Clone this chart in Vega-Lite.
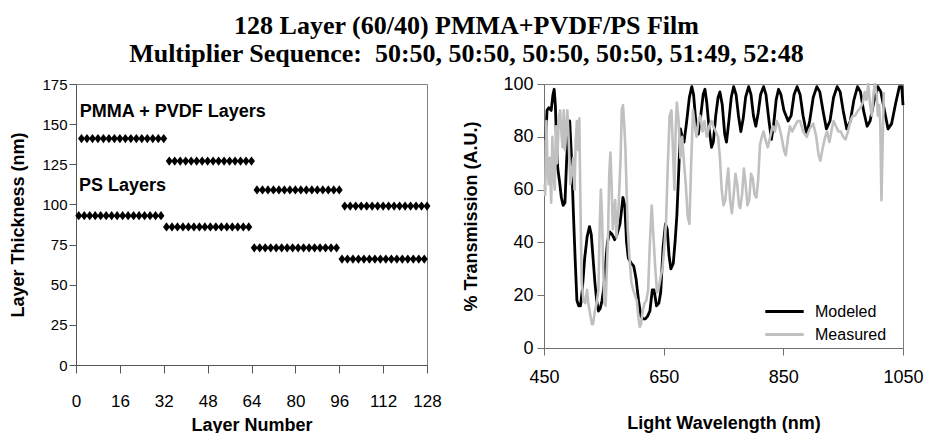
{
  "$schema": "https://vega.github.io/schema/vega-lite/v6.json",
  "background": "white",
  "padding": {"left": 9, "top": 12, "right": 0, "bottom": 0},
  "title": {
    "text": ["128 Layer (60/40) PMMA+PVDF/PS Film", "Multiplier Sequence:\u00a0\u00a050:50, 50:50, 50:50, 50:50, 51:49, 52:48"],
    "font": "Liberation Serif", "fontSize": 26, "fontWeight": "bold", "lineHeight": 28,
    "anchor": "middle", "offset": 8, "color": "black"
  },
  "spacing": 20,
  "resolve": {"scale": {"x": "independent", "y": "independent", "color": "independent"}, "legend": {"color": "independent"}},
  "config": {
    "view": {"stroke": "#808080", "strokeWidth": 1},
    "axis": {
      "grid": false, "domainColor": "#707070", "tickColor": "#707070",
      "labelColor": "black", "titleColor": "black",
      "titleFont": "Liberation Sans", "titleFontWeight": "bold", "titleFontSize": 18,
      "labelFont": "Liberation Sans"
    }
  },
  "datasets": {
    "layers": [
      {"layer": 1, "thickness": 93, "type": "PS"}, {"layer": 3, "thickness": 93, "type": "PS"}, {"layer": 5, "thickness": 93, "type": "PS"}, {"layer": 7, "thickness": 93, "type": "PS"},
      {"layer": 9, "thickness": 93, "type": "PS"}, {"layer": 11, "thickness": 93, "type": "PS"}, {"layer": 13, "thickness": 93, "type": "PS"}, {"layer": 15, "thickness": 93, "type": "PS"},
      {"layer": 17, "thickness": 93, "type": "PS"}, {"layer": 19, "thickness": 93, "type": "PS"}, {"layer": 21, "thickness": 93, "type": "PS"}, {"layer": 23, "thickness": 93, "type": "PS"},
      {"layer": 25, "thickness": 93, "type": "PS"}, {"layer": 27, "thickness": 93, "type": "PS"}, {"layer": 29, "thickness": 93, "type": "PS"}, {"layer": 31, "thickness": 93, "type": "PS"},
      {"layer": 33, "thickness": 86, "type": "PS"}, {"layer": 35, "thickness": 86, "type": "PS"}, {"layer": 37, "thickness": 86, "type": "PS"}, {"layer": 39, "thickness": 86, "type": "PS"},
      {"layer": 41, "thickness": 86, "type": "PS"}, {"layer": 43, "thickness": 86, "type": "PS"}, {"layer": 45, "thickness": 86, "type": "PS"}, {"layer": 47, "thickness": 86, "type": "PS"},
      {"layer": 49, "thickness": 86, "type": "PS"}, {"layer": 51, "thickness": 86, "type": "PS"}, {"layer": 53, "thickness": 86, "type": "PS"}, {"layer": 55, "thickness": 86, "type": "PS"},
      {"layer": 57, "thickness": 86, "type": "PS"}, {"layer": 59, "thickness": 86, "type": "PS"}, {"layer": 61, "thickness": 86, "type": "PS"}, {"layer": 63, "thickness": 86, "type": "PS"},
      {"layer": 65, "thickness": 73, "type": "PS"}, {"layer": 67, "thickness": 73, "type": "PS"}, {"layer": 69, "thickness": 73, "type": "PS"}, {"layer": 71, "thickness": 73, "type": "PS"},
      {"layer": 73, "thickness": 73, "type": "PS"}, {"layer": 75, "thickness": 73, "type": "PS"}, {"layer": 77, "thickness": 73, "type": "PS"}, {"layer": 79, "thickness": 73, "type": "PS"},
      {"layer": 81, "thickness": 73, "type": "PS"}, {"layer": 83, "thickness": 73, "type": "PS"}, {"layer": 85, "thickness": 73, "type": "PS"}, {"layer": 87, "thickness": 73, "type": "PS"},
      {"layer": 89, "thickness": 73, "type": "PS"}, {"layer": 91, "thickness": 73, "type": "PS"}, {"layer": 93, "thickness": 73, "type": "PS"}, {"layer": 95, "thickness": 73, "type": "PS"},
      {"layer": 97, "thickness": 66, "type": "PS"}, {"layer": 99, "thickness": 66, "type": "PS"}, {"layer": 101, "thickness": 66, "type": "PS"}, {"layer": 103, "thickness": 66, "type": "PS"},
      {"layer": 105, "thickness": 66, "type": "PS"}, {"layer": 107, "thickness": 66, "type": "PS"}, {"layer": 109, "thickness": 66, "type": "PS"}, {"layer": 111, "thickness": 66, "type": "PS"},
      {"layer": 113, "thickness": 66, "type": "PS"}, {"layer": 115, "thickness": 66, "type": "PS"}, {"layer": 117, "thickness": 66, "type": "PS"}, {"layer": 119, "thickness": 66, "type": "PS"},
      {"layer": 121, "thickness": 66, "type": "PS"}, {"layer": 123, "thickness": 66, "type": "PS"}, {"layer": 125, "thickness": 66, "type": "PS"}, {"layer": 127, "thickness": 66, "type": "PS"},
      {"layer": 2, "thickness": 141, "type": "PMMA"}, {"layer": 4, "thickness": 141, "type": "PMMA"}, {"layer": 6, "thickness": 141, "type": "PMMA"}, {"layer": 8, "thickness": 141, "type": "PMMA"},
      {"layer": 10, "thickness": 141, "type": "PMMA"}, {"layer": 12, "thickness": 141, "type": "PMMA"}, {"layer": 14, "thickness": 141, "type": "PMMA"}, {"layer": 16, "thickness": 141, "type": "PMMA"},
      {"layer": 18, "thickness": 141, "type": "PMMA"}, {"layer": 20, "thickness": 141, "type": "PMMA"}, {"layer": 22, "thickness": 141, "type": "PMMA"}, {"layer": 24, "thickness": 141, "type": "PMMA"},
      {"layer": 26, "thickness": 141, "type": "PMMA"}, {"layer": 28, "thickness": 141, "type": "PMMA"}, {"layer": 30, "thickness": 141, "type": "PMMA"}, {"layer": 32, "thickness": 141, "type": "PMMA"},
      {"layer": 34, "thickness": 127, "type": "PMMA"}, {"layer": 36, "thickness": 127, "type": "PMMA"}, {"layer": 38, "thickness": 127, "type": "PMMA"}, {"layer": 40, "thickness": 127, "type": "PMMA"},
      {"layer": 42, "thickness": 127, "type": "PMMA"}, {"layer": 44, "thickness": 127, "type": "PMMA"}, {"layer": 46, "thickness": 127, "type": "PMMA"}, {"layer": 48, "thickness": 127, "type": "PMMA"},
      {"layer": 50, "thickness": 127, "type": "PMMA"}, {"layer": 52, "thickness": 127, "type": "PMMA"}, {"layer": 54, "thickness": 127, "type": "PMMA"}, {"layer": 56, "thickness": 127, "type": "PMMA"},
      {"layer": 58, "thickness": 127, "type": "PMMA"}, {"layer": 60, "thickness": 127, "type": "PMMA"}, {"layer": 62, "thickness": 127, "type": "PMMA"}, {"layer": 64, "thickness": 127, "type": "PMMA"},
      {"layer": 66, "thickness": 109, "type": "PMMA"}, {"layer": 68, "thickness": 109, "type": "PMMA"}, {"layer": 70, "thickness": 109, "type": "PMMA"}, {"layer": 72, "thickness": 109, "type": "PMMA"},
      {"layer": 74, "thickness": 109, "type": "PMMA"}, {"layer": 76, "thickness": 109, "type": "PMMA"}, {"layer": 78, "thickness": 109, "type": "PMMA"}, {"layer": 80, "thickness": 109, "type": "PMMA"},
      {"layer": 82, "thickness": 109, "type": "PMMA"}, {"layer": 84, "thickness": 109, "type": "PMMA"}, {"layer": 86, "thickness": 109, "type": "PMMA"}, {"layer": 88, "thickness": 109, "type": "PMMA"},
      {"layer": 90, "thickness": 109, "type": "PMMA"}, {"layer": 92, "thickness": 109, "type": "PMMA"}, {"layer": 94, "thickness": 109, "type": "PMMA"}, {"layer": 96, "thickness": 109, "type": "PMMA"},
      {"layer": 98, "thickness": 99, "type": "PMMA"}, {"layer": 100, "thickness": 99, "type": "PMMA"}, {"layer": 102, "thickness": 99, "type": "PMMA"}, {"layer": 104, "thickness": 99, "type": "PMMA"},
      {"layer": 106, "thickness": 99, "type": "PMMA"}, {"layer": 108, "thickness": 99, "type": "PMMA"}, {"layer": 110, "thickness": 99, "type": "PMMA"}, {"layer": 112, "thickness": 99, "type": "PMMA"},
      {"layer": 114, "thickness": 99, "type": "PMMA"}, {"layer": 116, "thickness": 99, "type": "PMMA"}, {"layer": 118, "thickness": 99, "type": "PMMA"}, {"layer": 120, "thickness": 99, "type": "PMMA"},
      {"layer": 122, "thickness": 99, "type": "PMMA"}, {"layer": 124, "thickness": 99, "type": "PMMA"}, {"layer": 126, "thickness": 99, "type": "PMMA"}, {"layer": 128, "thickness": 99, "type": "PMMA"}
    ],
    "labels": [
      {"layer": 1.4, "thickness": 157.5, "label": "PMMA + PVDF Layers"},
      {"layer": 1.1, "thickness": 111.5, "label": "PS Layers"}
    ],
    "modeled": [
      {"wl": 453, "t": 79}, {"wl": 455, "t": 90}, {"wl": 458, "t": 91}, {"wl": 462, "t": 90}, {"wl": 465, "t": 96}, {"wl": 467, "t": 98},
      {"wl": 469, "t": 92}, {"wl": 471, "t": 78}, {"wl": 473, "t": 68}, {"wl": 476, "t": 63}, {"wl": 479, "t": 57}, {"wl": 482, "t": 54},
      {"wl": 485, "t": 55}, {"wl": 488, "t": 72}, {"wl": 491, "t": 83}, {"wl": 493, "t": 86}, {"wl": 496, "t": 72}, {"wl": 499, "t": 52},
      {"wl": 502, "t": 34}, {"wl": 505, "t": 18}, {"wl": 508, "t": 16}, {"wl": 511, "t": 16}, {"wl": 514, "t": 22}, {"wl": 518, "t": 34},
      {"wl": 522, "t": 42}, {"wl": 526, "t": 46}, {"wl": 529, "t": 43}, {"wl": 532, "t": 34}, {"wl": 535, "t": 25}, {"wl": 538, "t": 18},
      {"wl": 541, "t": 14}, {"wl": 544, "t": 15}, {"wl": 547, "t": 18}, {"wl": 550, "t": 23}, {"wl": 553, "t": 32}, {"wl": 556, "t": 40},
      {"wl": 560, "t": 44}, {"wl": 564, "t": 43}, {"wl": 568, "t": 41}, {"wl": 572, "t": 43}, {"wl": 577, "t": 47}, {"wl": 582, "t": 57},
      {"wl": 585, "t": 54}, {"wl": 588, "t": 40}, {"wl": 591, "t": 34}, {"wl": 596, "t": 32}, {"wl": 600, "t": 31}, {"wl": 604, "t": 26},
      {"wl": 608, "t": 18}, {"wl": 612, "t": 12}, {"wl": 616, "t": 11}, {"wl": 619, "t": 11}, {"wl": 623, "t": 12}, {"wl": 627, "t": 14},
      {"wl": 631, "t": 22}, {"wl": 634, "t": 22}, {"wl": 638, "t": 16}, {"wl": 642, "t": 17}, {"wl": 645, "t": 21}, {"wl": 649, "t": 38},
      {"wl": 653, "t": 47}, {"wl": 656, "t": 45}, {"wl": 659, "t": 35}, {"wl": 662, "t": 30}, {"wl": 666, "t": 32}, {"wl": 669, "t": 40},
      {"wl": 672, "t": 50}, {"wl": 675, "t": 66}, {"wl": 678, "t": 83}, {"wl": 681, "t": 80}, {"wl": 684, "t": 78}, {"wl": 688, "t": 85},
      {"wl": 693, "t": 95}, {"wl": 697, "t": 99}, {"wl": 700, "t": 96}, {"wl": 704, "t": 85}, {"wl": 708, "t": 81}, {"wl": 712, "t": 88},
      {"wl": 716, "t": 96}, {"wl": 719, "t": 98}, {"wl": 722, "t": 93}, {"wl": 726, "t": 83}, {"wl": 730, "t": 76}, {"wl": 733, "t": 78},
      {"wl": 737, "t": 88}, {"wl": 741, "t": 95}, {"wl": 744, "t": 97}, {"wl": 748, "t": 92}, {"wl": 752, "t": 81}, {"wl": 755, "t": 78},
      {"wl": 759, "t": 86}, {"wl": 763, "t": 95}, {"wl": 767, "t": 99}, {"wl": 771, "t": 96}, {"wl": 775, "t": 88}, {"wl": 779, "t": 82},
      {"wl": 783, "t": 87}, {"wl": 787, "t": 95}, {"wl": 792, "t": 99}, {"wl": 796, "t": 96}, {"wl": 800, "t": 88}, {"wl": 804, "t": 84},
      {"wl": 808, "t": 89}, {"wl": 812, "t": 96}, {"wl": 817, "t": 99}, {"wl": 821, "t": 96}, {"wl": 826, "t": 86}, {"wl": 830, "t": 79},
      {"wl": 834, "t": 85}, {"wl": 838, "t": 94}, {"wl": 842, "t": 98}, {"wl": 846, "t": 96}, {"wl": 851, "t": 90}, {"wl": 858, "t": 86},
      {"wl": 863, "t": 88}, {"wl": 868, "t": 96}, {"wl": 873, "t": 99}, {"wl": 878, "t": 96}, {"wl": 883, "t": 88}, {"wl": 889, "t": 81},
      {"wl": 894, "t": 86}, {"wl": 900, "t": 95}, {"wl": 906, "t": 99}, {"wl": 911, "t": 97}, {"wl": 917, "t": 89}, {"wl": 922, "t": 83},
      {"wl": 928, "t": 86}, {"wl": 934, "t": 95}, {"wl": 940, "t": 99}, {"wl": 945, "t": 97}, {"wl": 950, "t": 90}, {"wl": 956, "t": 83},
      {"wl": 962, "t": 86}, {"wl": 968, "t": 94}, {"wl": 974, "t": 99}, {"wl": 979, "t": 97}, {"wl": 984, "t": 90}, {"wl": 990, "t": 84},
      {"wl": 995, "t": 86}, {"wl": 1001, "t": 93}, {"wl": 1008, "t": 99}, {"wl": 1013, "t": 97}, {"wl": 1019, "t": 90}, {"wl": 1025, "t": 83},
      {"wl": 1031, "t": 85}, {"wl": 1038, "t": 93}, {"wl": 1044, "t": 99}, {"wl": 1048, "t": 99}, {"wl": 1050, "t": 92}
    ],
    "measured": [
      {"wl": 451, "t": 62}, {"wl": 452, "t": 58}, {"wl": 454, "t": 86}, {"wl": 456, "t": 68}, {"wl": 458, "t": 62}, {"wl": 460, "t": 72},
      {"wl": 462, "t": 55}, {"wl": 464, "t": 80}, {"wl": 466, "t": 66}, {"wl": 468, "t": 60}, {"wl": 470, "t": 84}, {"wl": 472, "t": 70},
      {"wl": 475, "t": 88}, {"wl": 477, "t": 90}, {"wl": 479, "t": 82}, {"wl": 481, "t": 76}, {"wl": 483, "t": 90}, {"wl": 485, "t": 75},
      {"wl": 487, "t": 82}, {"wl": 489, "t": 90}, {"wl": 491, "t": 80}, {"wl": 494, "t": 62}, {"wl": 497, "t": 68}, {"wl": 499, "t": 72},
      {"wl": 501, "t": 60}, {"wl": 503, "t": 78}, {"wl": 505, "t": 86}, {"wl": 507, "t": 75}, {"wl": 509, "t": 87}, {"wl": 511, "t": 53},
      {"wl": 513, "t": 25}, {"wl": 516, "t": 18}, {"wl": 519, "t": 17}, {"wl": 522, "t": 22}, {"wl": 524, "t": 17}, {"wl": 527, "t": 13},
      {"wl": 530, "t": 9}, {"wl": 532, "t": 9}, {"wl": 535, "t": 14}, {"wl": 538, "t": 17}, {"wl": 541, "t": 22}, {"wl": 543, "t": 45},
      {"wl": 545, "t": 60}, {"wl": 547, "t": 50}, {"wl": 549, "t": 30}, {"wl": 551, "t": 17}, {"wl": 553, "t": 16}, {"wl": 555, "t": 30},
      {"wl": 557, "t": 42}, {"wl": 559, "t": 66}, {"wl": 561, "t": 74}, {"wl": 563, "t": 62}, {"wl": 565, "t": 45}, {"wl": 567, "t": 52},
      {"wl": 569, "t": 56}, {"wl": 571, "t": 42}, {"wl": 573, "t": 48}, {"wl": 575, "t": 55}, {"wl": 578, "t": 72}, {"wl": 580, "t": 90},
      {"wl": 582, "t": 92}, {"wl": 584, "t": 85}, {"wl": 586, "t": 76}, {"wl": 588, "t": 60}, {"wl": 590, "t": 45}, {"wl": 593, "t": 34},
      {"wl": 596, "t": 25}, {"wl": 599, "t": 22}, {"wl": 602, "t": 20}, {"wl": 605, "t": 18}, {"wl": 608, "t": 11}, {"wl": 610, "t": 8},
      {"wl": 612, "t": 9}, {"wl": 615, "t": 14}, {"wl": 618, "t": 17}, {"wl": 621, "t": 18}, {"wl": 624, "t": 22}, {"wl": 627, "t": 40},
      {"wl": 630, "t": 54}, {"wl": 633, "t": 42}, {"wl": 636, "t": 30}, {"wl": 639, "t": 21}, {"wl": 642, "t": 23}, {"wl": 645, "t": 27},
      {"wl": 648, "t": 30}, {"wl": 651, "t": 38}, {"wl": 654, "t": 48}, {"wl": 657, "t": 70}, {"wl": 660, "t": 88}, {"wl": 663, "t": 90},
      {"wl": 666, "t": 72}, {"wl": 668, "t": 60}, {"wl": 670, "t": 82}, {"wl": 672, "t": 93}, {"wl": 675, "t": 86}, {"wl": 678, "t": 72},
      {"wl": 681, "t": 80}, {"wl": 684, "t": 70}, {"wl": 687, "t": 62}, {"wl": 690, "t": 50}, {"wl": 693, "t": 47}, {"wl": 696, "t": 70},
      {"wl": 699, "t": 90}, {"wl": 702, "t": 84}, {"wl": 705, "t": 80}, {"wl": 708, "t": 86}, {"wl": 711, "t": 88}, {"wl": 715, "t": 82},
      {"wl": 718, "t": 86}, {"wl": 722, "t": 80}, {"wl": 726, "t": 84}, {"wl": 730, "t": 86}, {"wl": 733, "t": 84}, {"wl": 737, "t": 82},
      {"wl": 741, "t": 80}, {"wl": 744, "t": 72}, {"wl": 747, "t": 60}, {"wl": 750, "t": 54}, {"wl": 753, "t": 56}, {"wl": 756, "t": 64},
      {"wl": 758, "t": 68}, {"wl": 761, "t": 56}, {"wl": 764, "t": 51}, {"wl": 767, "t": 58}, {"wl": 770, "t": 66}, {"wl": 773, "t": 62},
      {"wl": 776, "t": 54}, {"wl": 778, "t": 53}, {"wl": 781, "t": 58}, {"wl": 784, "t": 68}, {"wl": 787, "t": 62}, {"wl": 790, "t": 54},
      {"wl": 793, "t": 56}, {"wl": 796, "t": 66}, {"wl": 799, "t": 64}, {"wl": 802, "t": 58}, {"wl": 805, "t": 57}, {"wl": 808, "t": 64},
      {"wl": 811, "t": 77}, {"wl": 814, "t": 80}, {"wl": 817, "t": 82}, {"wl": 820, "t": 79}, {"wl": 824, "t": 76}, {"wl": 828, "t": 80},
      {"wl": 832, "t": 84}, {"wl": 836, "t": 82}, {"wl": 839, "t": 86}, {"wl": 843, "t": 84}, {"wl": 847, "t": 80}, {"wl": 851, "t": 75},
      {"wl": 854, "t": 73}, {"wl": 858, "t": 80}, {"wl": 861, "t": 84}, {"wl": 865, "t": 82}, {"wl": 869, "t": 84}, {"wl": 874, "t": 86},
      {"wl": 878, "t": 86}, {"wl": 883, "t": 82}, {"wl": 889, "t": 80}, {"wl": 894, "t": 83}, {"wl": 900, "t": 85}, {"wl": 905, "t": 80},
      {"wl": 909, "t": 73}, {"wl": 912, "t": 71}, {"wl": 916, "t": 76}, {"wl": 920, "t": 80}, {"wl": 923, "t": 82}, {"wl": 927, "t": 78},
      {"wl": 931, "t": 83}, {"wl": 934, "t": 86}, {"wl": 938, "t": 84}, {"wl": 942, "t": 82}, {"wl": 946, "t": 82}, {"wl": 950, "t": 80},
      {"wl": 954, "t": 79}, {"wl": 958, "t": 82}, {"wl": 962, "t": 86}, {"wl": 966, "t": 88}, {"wl": 970, "t": 88}, {"wl": 975, "t": 90},
      {"wl": 979, "t": 91}, {"wl": 983, "t": 93}, {"wl": 986, "t": 97}, {"wl": 989, "t": 94}, {"wl": 992, "t": 100}, {"wl": 995, "t": 92},
      {"wl": 998, "t": 88}, {"wl": 1001, "t": 97}, {"wl": 1003, "t": 100}, {"wl": 1006, "t": 96}, {"wl": 1008, "t": 88}, {"wl": 1010, "t": 92},
      {"wl": 1012, "t": 85}, {"wl": 1014, "t": 56}, {"wl": 1016, "t": 78}, {"wl": 1018, "t": 97}
    ]
  },
  "hconcat": [
    {
      "width": 351,
      "height": 281,
      "layer": [
        {
          "data": {"name": "layers"},
          "mark": {"type": "point", "shape": "M0,-1L0.75,0L0,1L-0.75,0Z", "filled": true, "color": "black", "size": 85, "opacity": 1},
          "encoding": {
            "x": {
              "field": "layer", "type": "quantitative",
              "scale": {"domain": [0, 128], "nice": false, "zero": false},
              "axis": {
                "values": [0, 16, 32, 48, 64, 80, 96, 112, 128], "title": "Layer Number",
                "labelFont": "Liberation Sans", "labelFontSize": 17, "tickSize": 8, "labelPadding": 20,
                "titlePadding": 7, "domainColor": "#555555", "tickColor": "#555555", "labelFlush": false
              }
            },
            "y": {
              "field": "thickness", "type": "quantitative",
              "scale": {"domain": [0, 175], "nice": false},
              "axis": {
                "values": [0, 25, 50, 75, 100, 125, 150, 175], "title": "Layer Thickness (nm)",
                "labelFont": "Liberation Sans", "labelFontSize": 15, "tickSize": 7, "labelPadding": 2,
                "titlePadding": 14, "domainColor": "#555555", "tickColor": "#555555"
              }
            }
          }
        },
        {
          "data": {"name": "labels"},
          "mark": {"type": "text", "align": "left", "baseline": "middle", "font": "Liberation Sans", "fontWeight": "bold", "fontSize": 18, "color": "black"},
          "encoding": {
            "x": {"field": "layer", "type": "quantitative"},
            "y": {"field": "thickness", "type": "quantitative"},
            "text": {"field": "label"}
          }
        }
      ]
    },
    {
      "width": 359,
      "height": 264,
      "layer": [
        {
          "data": {"name": "modeled"},
          "mark": {"type": "line", "strokeWidth": 2.8, "strokeJoin": "round"},
          "encoding": {
            "x": {
              "field": "wl", "type": "quantitative",
              "scale": {"domain": [450, 1050], "nice": false, "zero": false},
              "axis": {
                "values": [450, 650, 850, 1050], "format": "d", "title": "Light Wavelength (nm)",
                "labelFontSize": 18, "tickSize": 7, "labelPadding": 13, "titlePadding": 28, "labelFlush": false
              }
            },
            "y": {
              "field": "t", "type": "quantitative",
              "scale": {"domain": [0, 100], "nice": false},
              "axis": {
                "values": [0, 20, 40, 60, 80, 100], "title": "% Transmission (A.U.)",
                "labelFontSize": 18, "tickSize": 7, "labelPadding": 4, "titlePadding": 22
              }
            },
            "color": {
              "datum": "Modeled", "type": "nominal",
              "scale": {"domain": ["Modeled", "Measured"], "range": ["#000000", "#c0c0c0"]},
              "legend": {
                "orient": "none", "legendX": 227, "legendY": 214, "title": null, "padding": 0,
                "symbolType": "M-1.6,0L1.6,0", "symbolSize": 576, "symbolStrokeWidth": 3,
                "labelFont": "Liberation Sans", "labelFontSize": 16, "labelColor": "black",
                "labelOffset": 17, "rowPadding": 1
              }
            }
          }
        },
        {
          "data": {"name": "measured"},
          "mark": {"type": "line", "strokeWidth": 2.6, "strokeJoin": "round"},
          "encoding": {
            "x": {"field": "wl", "type": "quantitative"},
            "y": {"field": "t", "type": "quantitative"},
            "color": {"datum": "Measured", "type": "nominal"}
          }
        }
      ]
    }
  ]
}
